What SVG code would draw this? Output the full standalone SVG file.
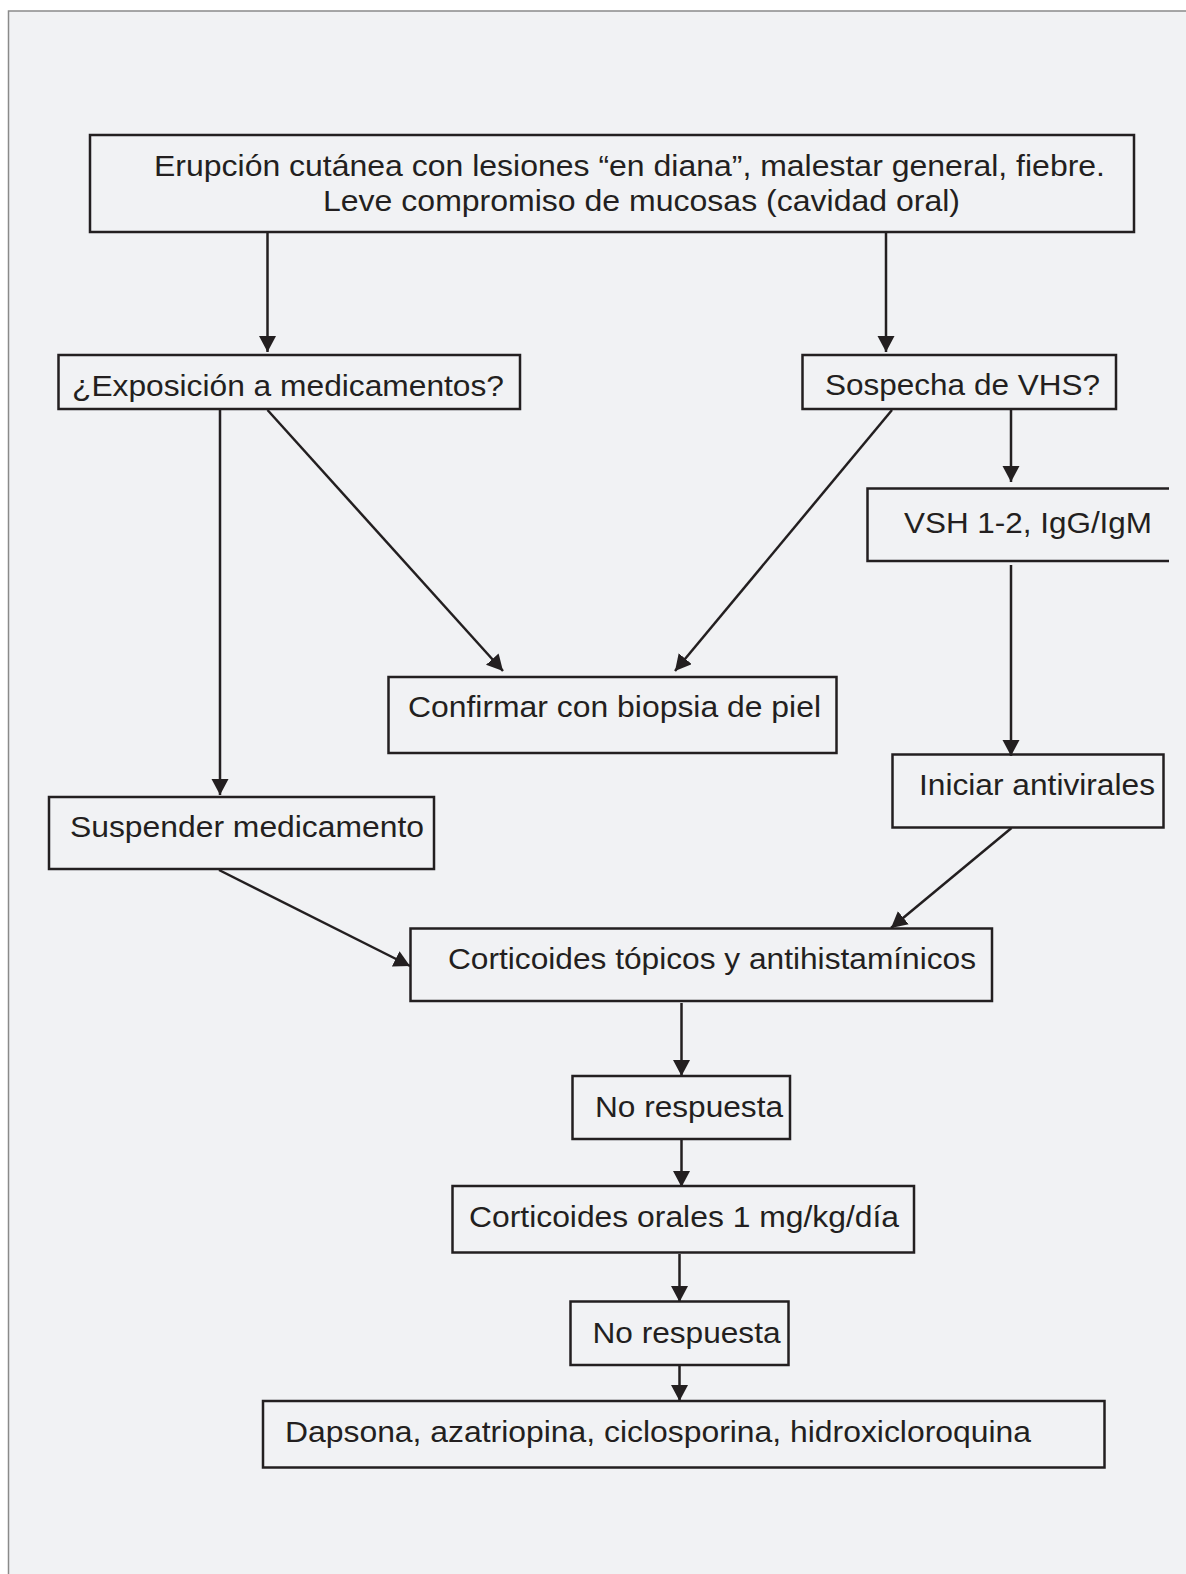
<svg xmlns="http://www.w3.org/2000/svg" width="1186" height="1574" viewBox="0 0 1186 1574">
<defs>
<style>
.box{fill:none;stroke:#231f20;stroke-width:2.5}
.t{font-family:"Liberation Sans",Arial,sans-serif;font-size:30px;fill:#231f20}
.c{fill:none;stroke:#231f20;stroke-width:2.5}
</style>
<marker id="ah" markerUnits="userSpaceOnUse" markerWidth="18" markerHeight="18" refX="16" refY="8.5" orient="auto" viewBox="0 0 18 18">
<path d="M0,0 L16,8.5 L0,17 z" fill="#231f20"/>
</marker>
</defs>
<rect x="0" y="0" width="1186" height="1574" fill="#ffffff"/>
<rect x="8.5" y="11" width="1200" height="1600" fill="#f1f2f4" stroke="#8a8a8a" stroke-width="1.5"/>

<g id="connectors">
<line class="c" x1="267.5" y1="233" x2="267.5" y2="352" marker-end="url(#ah)"/>
<line class="c" x1="886" y1="233" x2="886" y2="352" marker-end="url(#ah)"/>
<line class="c" x1="220" y1="410" x2="220" y2="795" marker-end="url(#ah)"/>
<line class="c" x1="267.5" y1="410" x2="503" y2="671" marker-end="url(#ah)"/>
<line class="c" x1="892" y1="410" x2="675" y2="671" marker-end="url(#ah)"/>
<line class="c" x1="1011" y1="410" x2="1011" y2="482" marker-end="url(#ah)"/>
<line class="c" x1="1011" y1="565" x2="1011" y2="756" marker-end="url(#ah)"/>
<line class="c" x1="1011.5" y1="828" x2="891" y2="928" marker-end="url(#ah)"/>
<line class="c" x1="219" y1="870" x2="410" y2="966" marker-end="url(#ah)"/>
<line class="c" x1="681.5" y1="1003" x2="681.5" y2="1076" marker-end="url(#ah)"/>
<line class="c" x1="681.5" y1="1140" x2="681.5" y2="1187" marker-end="url(#ah)"/>
<line class="c" x1="679.5" y1="1254" x2="679.5" y2="1302" marker-end="url(#ah)"/>
<line class="c" x1="679.5" y1="1366" x2="679.5" y2="1401" marker-end="url(#ah)"/>
</g>

<g id="n-erupcion">
<rect class="box" x="90" y="135" width="1044" height="97"/>
<text class="t" x="154" y="176" textLength="951" lengthAdjust="spacingAndGlyphs">Erupción cutánea con lesiones “en diana”, malestar general, fiebre.</text>
<text class="t" x="323" y="211" textLength="637" lengthAdjust="spacingAndGlyphs">Leve compromiso de mucosas (cavidad oral)</text>
</g>

<g id="n-exposicion">
<rect class="box" x="58.5" y="355" width="461.5" height="54"/>
<text class="t" x="72" y="395.5" textLength="432" lengthAdjust="spacingAndGlyphs">¿Exposición a medicamentos?</text>
</g>

<g id="n-sospecha">
<rect class="box" x="802.5" y="355" width="313.5" height="54"/>
<text class="t" x="825" y="395" textLength="275" lengthAdjust="spacingAndGlyphs">Sospecha de VHS?</text>
</g>

<g id="n-vsh">
<path class="box" d="M1169,488.5 H867.5 V561 H1169"/>
<text class="t" x="904" y="532.5" textLength="248" lengthAdjust="spacingAndGlyphs">VSH 1-2, IgG/IgM</text>
</g>

<g id="n-confirmar">
<rect class="box" x="388.5" y="677" width="448" height="76"/>
<text class="t" x="408" y="717" textLength="413" lengthAdjust="spacingAndGlyphs">Confirmar con biopsia de piel</text>
</g>

<g id="n-iniciar">
<rect class="box" x="892.5" y="754.5" width="271" height="73"/>
<text class="t" x="919" y="795" textLength="236" lengthAdjust="spacingAndGlyphs">Iniciar antivirales</text>
</g>

<g id="n-suspender">
<rect class="box" x="49" y="797" width="385" height="72"/>
<text class="t" x="70" y="836.5" textLength="354" lengthAdjust="spacingAndGlyphs">Suspender medicamento</text>
</g>

<g id="n-topicos">
<rect class="box" x="410.5" y="928.5" width="581.5" height="72.5"/>
<text class="t" x="448" y="969" textLength="528" lengthAdjust="spacingAndGlyphs">Corticoides tópicos y antihistamínicos</text>
</g>

<g id="n-norespuesta1">
<rect class="box" x="572.5" y="1076" width="217.5" height="63"/>
<text class="t" x="595" y="1117" textLength="188" lengthAdjust="spacingAndGlyphs">No respuesta</text>
</g>

<g id="n-orales">
<rect class="box" x="452.5" y="1186" width="461.5" height="66.5"/>
<text class="t" x="469" y="1227" textLength="430" lengthAdjust="spacingAndGlyphs">Corticoides orales 1 mg/kg/día</text>
</g>

<g id="n-norespuesta2">
<rect class="box" x="570.5" y="1301.5" width="218" height="63.5"/>
<text class="t" x="592.5" y="1342.5" textLength="188" lengthAdjust="spacingAndGlyphs">No respuesta</text>
</g>

<g id="n-dapsona">
<rect class="box" x="263" y="1401" width="841.5" height="66.5"/>
<text class="t" x="285" y="1441.5" textLength="746" lengthAdjust="spacingAndGlyphs">Dapsona, azatriopina, ciclosporina, hidroxicloroquina</text>
</g>
</svg>
